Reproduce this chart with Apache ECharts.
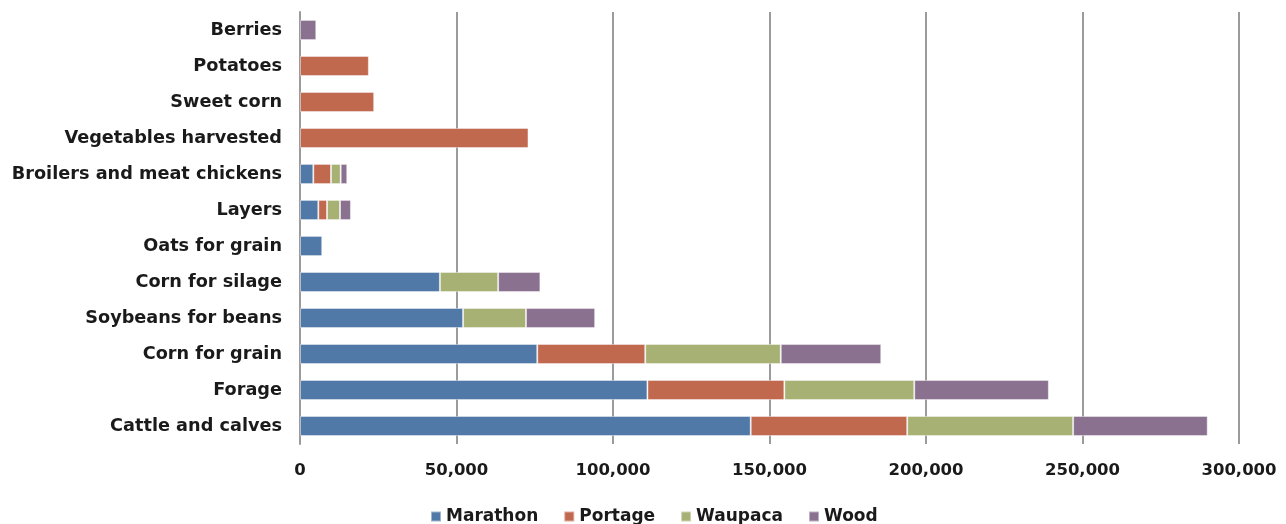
<!DOCTYPE html>
<html>
<head>
<meta charset="utf-8">
<script src="https://cdn.jsdelivr.net/npm/echarts@6/dist/echarts.min.js"></script>
<style>
  html, body { margin: 0; padding: 0; background: #ffffff; }
  #chart { width: 1286px; height: 524px; }
</style>
</head>
<body>
<div id="chart"></div>
<script>
// Categories listed bottom-to-top along the vertical axis
const categories = [
  'Cattle and calves', 'Forage', 'Corn for grain', 'Soybeans for beans',
  'Corn for silage', 'Oats for grain', 'Layers', 'Broilers and meat chickens',
  'Vegetables harvested', 'Sweet corn', 'Potatoes', 'Berries'
];

const marathon = [144000, 111000, 75800, 52100, 44700, 7100, 5850, 4250, null, null, null, null];
const portage  = [50000, 43750, 34500, null, null, null, 2780, 5650, 73000, 23700, 22000, null];
const waupaca  = [53000, 41500, 43300, 20100, 18600, null, 4150, 3100, null, null, null, null];
const wood     = [43000, 43000, 32100, 22100, 13500, null, 3500, 2100, null, null, null, 5200];

const seriesNames = ['Marathon', 'Portage', 'Waupaca', 'Wood'];
const seriesColors = ['#5079a7', '#c0694f', '#a7b174', '#89718f'];
const seriesData = [marathon, portage, waupaca, wood];

const axisTicks = [0, 50000, 100000, 150000, 200000, 250000, 300000];

const fontFamily = '"DejaVu Sans", "Liberation Sans", Arial, sans-serif';
const textColor = '#1a1a1a';

const chart = echarts.init(document.getElementById('chart'), null, { renderer: 'canvas' });

chart.setOption({
  animation: false,
  grid: { left: 300, right: 47, top: 12, bottom: 80, containLabel: false },
  legend: {
    data: seriesNames,
    bottom: -6,
    left: 425,
    itemWidth: 10,
    itemHeight: 10,
    itemGap: 25,
    icon: 'rect',
    textStyle: { fontFamily, fontWeight: 'bold', fontSize: 17, color: textColor }
  },
  xAxis: {
    type: 'value',
    min: axisTicks[0],
    max: axisTicks[axisTicks.length - 1],
    interval: axisTicks[1] - axisTicks[0],
    axisLine: { show: false },
    axisTick: { show: false },
    splitLine: { show: true, lineStyle: { color: '#9b9b9b', width: 2 } },
    axisLabel: {
      margin: 18,
      fontFamily, fontWeight: 'bold', fontSize: 16.5, color: textColor,
      formatter: v => v.toLocaleString('en-US')
    }
  },
  yAxis: {
    type: 'category',
    data: categories,
    axisLine: { show: true, lineStyle: { color: '#9b9b9b', width: 2 } },
    axisTick: { show: false },
    axisLabel: {
      margin: 18,
      fontFamily, fontWeight: 'bold', fontSize: 17.7, color: textColor
    }
  },
  series: seriesNames.map((name, i) => ({
    name,
    type: 'bar',
    stack: 'total',
    data: seriesData[i],
    barCategoryGap: '44%',
    itemStyle: {
      color: seriesColors[i],
      borderColor: 'rgba(255,255,255,0.45)',
      borderWidth: 1
    }
  }))
});
</script>
</body>
</html>
